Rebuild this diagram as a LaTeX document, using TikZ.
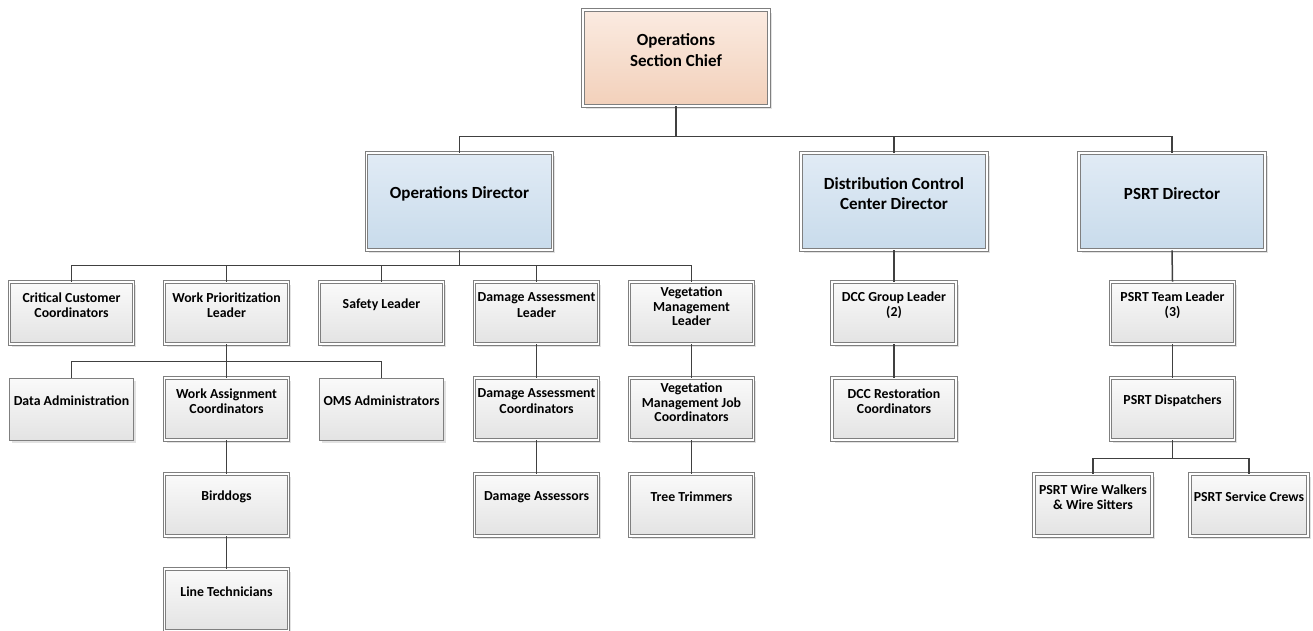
\documentclass[tikz,border=0pt]{standalone}
\usepackage{fontspec}
\setmainfont{Carlito}
\usetikzlibrary{shadows}
\definecolor{linec}{HTML}{404040}
\definecolor{bordc}{HTML}{7F7F7F}
\definecolor{greytop}{HTML}{FAFAFA}
\definecolor{greybot}{HTML}{E3E3E3}
\definecolor{bluetop}{HTML}{E1EBF5}
\definecolor{bluebot}{HTML}{C8DBEB}
\definecolor{peachtop}{HTML}{FBEBE1}
\definecolor{peachbot}{HTML}{F2D0BA}
\begin{document}
\begin{tikzpicture}[x=1pt,y=-1pt,
  base/.style={rectangle, draw=bordc, line width=0.7pt, inner sep=0pt,
    minimum width=124pt, minimum height=62pt,
    top color=greytop, bottom color=greybot,
    drop shadow={shadow xshift=2.5pt, shadow yshift=-2.5pt, fill=black!25, opacity=0.45}},
  box/.style={base, double=white, double distance=1.8pt},
  sbox/.style={base},
  big/.style={box, minimum width=186pt, minimum height=97pt, top color=bluetop, bottom color=bluebot},
  chiefbox/.style={big, minimum height=96pt, top color=peachtop, bottom color=peachbot},
  st/.style={align=center, font=\bfseries\fontsize{13.8}{15.5}\selectfont, yshift=8pt, inner sep=0pt},
  st3/.style={st, font=\bfseries\fontsize{13.8}{14.5}\selectfont, yshift=-1.5pt},
  bt/.style={align=center, font=\bfseries\fontsize{17}{20.5}\selectfont, yshift=8pt, inner sep=0pt},
  ct/.style={bt, yshift=0pt},
  conn/.style={draw=linec, line width=1.5pt}
]
\useasboundingbox (0,0) rectangle (1313,630);

% level 1
\node[chiefbox, label={[ct]center:{Operations\\Section Chief}}] (chief) at (676,58) {};

% level 2
\node[big, label={[bt]center:{Operations Director}}] (opdir) at (459.5,201.5) {};
\node[big, label={[bt]center:{Distribution Control\\Center Director}}] (dccdir) at (894,201.5) {};
\node[big, label={[bt]center:{PSRT Director}}] (psrtdir) at (1172,201.5) {};

% level 3
\node[box, label={[st]center:{Critical Customer\\Coordinators}}] (cc) at (71.5,313) {};
\node[box, label={[st]center:{Work Prioritization\\Leader}}] (wpl) at (226.5,313) {};
\node[box, label={[st]center:{Safety Leader}}] (safety) at (381.5,313) {};
\node[box, label={[st]center:{Damage Assessment\\Leader}}] (dal) at (536.5,313) {};
\node[box, label={[st3]center:{Vegetation\\Management\\Leader}}] (vml) at (691.5,313) {};
\node[box, label={[st]center:{DCC Group Leader\\(2)}}] (dccgl) at (894,313) {};
\node[box, label={[st]center:{PSRT Team Leader\\(3)}}] (psrttl) at (1172.5,313) {};

% level 4
\node[sbox, label={[st]center:{Data Administration}}] (data) at (71.5,409) {};
\node[box, label={[st]center:{Work Assignment\\Coordinators}}] (wac) at (226.5,409) {};
\node[sbox, label={[st]center:{OMS Administrators}}] (oms) at (381.5,409) {};
\node[box, label={[st]center:{Damage Assessment\\Coordinators}}] (dac) at (536.5,409) {};
\node[box, label={[st3]center:{Vegetation\\Management Job\\Coordinators}}] (vmjc) at (691.5,409) {};
\node[box, label={[st]center:{DCC Restoration\\Coordinators}}] (dccrc) at (894,409) {};
\node[box, label={[st]center:{PSRT Dispatchers}}] (psrtd) at (1172.5,409) {};

% level 5
\node[box, label={[st]center:{Birddogs}}] (bird) at (226.5,505) {};
\node[box, label={[st]center:{Damage Assessors}}] (dass) at (536.5,505) {};
\node[box, label={[st]center:{Tree Trimmers}}] (tree) at (691.5,505) {};
\node[box, minimum width=118pt, label={[st]center:{PSRT Wire Walkers\\\& Wire Sitters}}] (ww) at (1093,505) {};
\node[box, minimum width=118pt, label={[st]center:{PSRT Service Crews}}] (sc) at (1249,505) {};

% level 6
\node[box, label={[st]center:{Line Technicians}}] (line) at (226.5,600) {};

% connectors
\draw[conn] (chief.south) -- ++(0,30) -| (opdir.north);
\draw[conn] (chief.south) -- ++(0,30) -| (dccdir.north);
\draw[conn] (chief.south) -- ++(0,30) -| (psrtdir.north);

\foreach \t in {cc,wpl,safety,dal,vml}
  \draw[conn] (opdir.south) -- ++(0,15) -| (\t.north);

\foreach \t in {data,wac,oms}
  \draw[conn] (wpl.south) -- ++(0,17) -| (\t.north);

\draw[conn] (wac.south) -- (bird.north);
\draw[conn] (bird.south) -- (line.north);
\draw[conn] (dal.south) -- (dac.north);
\draw[conn] (dac.south) -- (dass.north);
\draw[conn] (vml.south) -- (vmjc.north);
\draw[conn] (vmjc.south) -- (tree.north);
\draw[conn] (dccdir.south) -- (dccgl.north);
\draw[conn] (dccgl.south) -- (dccrc.north);
\draw[conn] (psrtdir.south) -- (psrttl.north);
\draw[conn] (psrttl.south) -- (psrtd.north);
\draw[conn] (psrtd.south) -- ++(0,18) -| (ww.north);
\draw[conn] (psrtd.south) -- ++(0,18) -| (sc.north);
\end{tikzpicture}
\end{document}
